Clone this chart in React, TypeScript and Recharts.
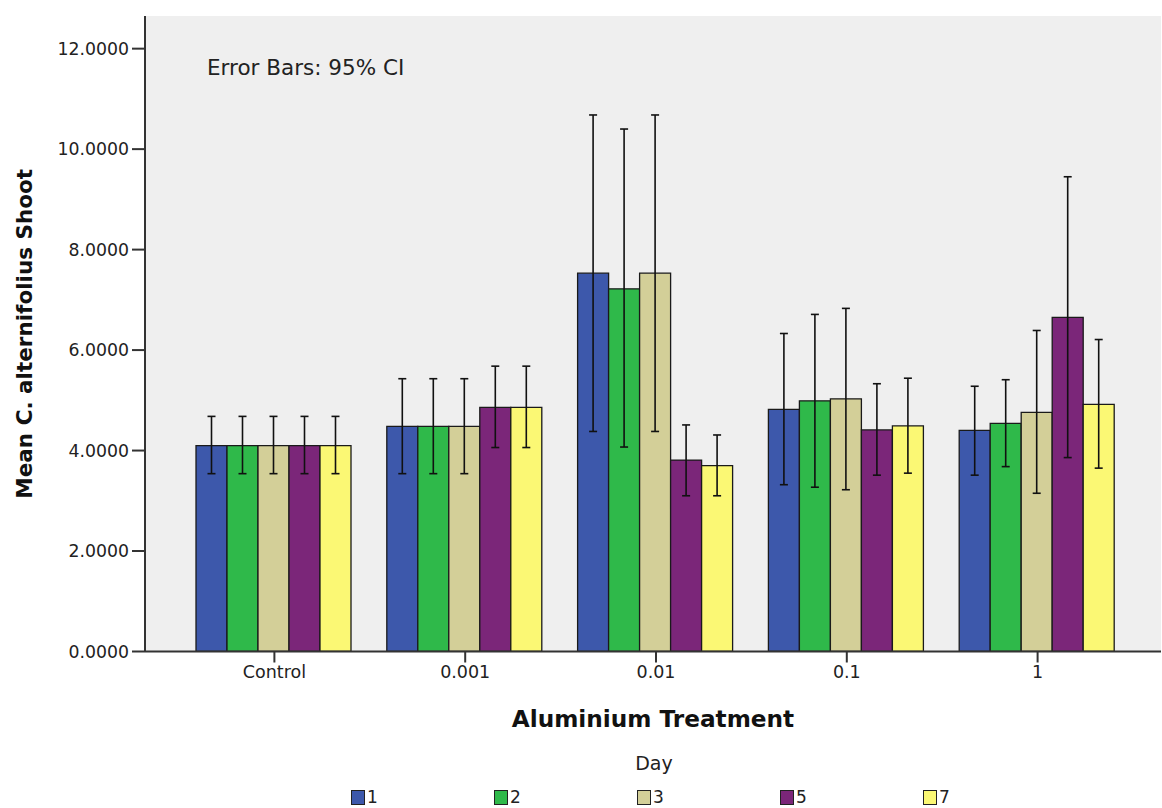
import React from 'react';
import { BarChart, Bar, XAxis, YAxis, CartesianGrid, ErrorBar, Legend } from 'recharts';

const categories = ['Control', '0.001', '0.01', '0.1', '1'];
const dayNames = ['1', '2', '3', '5', '7'];
const dayColors = ['#3d58ab', '#2fb94a', '#d3cf98', '#7b2679', '#fbf874'];

const day1 = [4.10, 4.48, 7.53, 4.82, 4.40];
const day1Lo = [3.54, 3.54, 4.38, 3.32, 3.51];
const day1Hi = [4.68, 5.43, 10.68, 6.33, 5.28];

const day2 = [4.10, 4.48, 7.22, 4.99, 4.54];
const day2Lo = [3.54, 3.54, 4.07, 3.27, 3.68];
const day2Hi = [4.68, 5.43, 10.40, 6.71, 5.41];

const day3 = [4.10, 4.48, 7.53, 5.03, 4.76];
const day3Lo = [3.54, 3.54, 4.38, 3.22, 3.15];
const day3Hi = [4.68, 5.43, 10.68, 6.83, 6.39];

const day5 = [4.10, 4.86, 3.81, 4.41, 6.65];
const day5Lo = [3.54, 4.06, 3.10, 3.51, 3.86];
const day5Hi = [4.68, 5.68, 4.51, 5.33, 9.45];

const day7 = [4.10, 4.86, 3.70, 4.49, 4.92];
const day7Lo = [3.54, 4.06, 3.10, 3.55, 3.65];
const day7Hi = [4.68, 5.68, 4.31, 5.44, 6.21];

const yTicks = [0, 2, 4, 6, 8, 10, 12];
const yMax = 12.65;

const seriesMeans = [day1, day2, day3, day5, day7];
const seriesLo = [day1Lo, day2Lo, day3Lo, day5Lo, day7Lo];
const seriesHi = [day1Hi, day2Hi, day3Hi, day5Hi, day7Hi];

const data = categories.map((cat, i) => {
  const row: any = { cat };
  dayNames.forEach((d, s) => {
    const v = seriesMeans[s][i];
    row['d' + d] = v;
    row['e' + d] = [v - seriesLo[s][i], seriesHi[s][i] - v];
  });
  return row;
});

const FONT = '"DejaVu Sans", Verdana, sans-serif';

const LegendContent = () => (
  <div style={{ position: 'relative', width: 1162, height: 63, fontFamily: FONT }}>
    <div style={{ position: 'absolute', left: 0, width: 1308, top: 7, textAlign: 'center', fontSize: 19, color: '#222' }}>Day</div>
    {dayNames.map((d, i) => (
      <div key={d} style={{ position: 'absolute', left: 351 + i * 143, top: 45, display: 'flex', alignItems: 'center' }}>
        <div style={{ width: 12, height: 13, background: dayColors[i], border: '1px solid #222', boxSizing: 'content-box' }} />
        <span style={{ fontSize: 17, color: '#222', marginLeft: 2, lineHeight: '15px' }}>{d}</span>
      </div>
    ))}
  </div>
);

export default function App() {
  return (
    <div style={{ position: 'absolute', left: 0, top: 0, width: 1162, height: 808, background: '#fff' }}>
      <BarChart
        width={1162}
        height={808}
        data={data}
        margin={{ top: 16, right: 1, left: 0, bottom: 56.5 }}
        barCategoryGap={17}
        barGap={0}
      >
        <CartesianGrid fill="#efefef" horizontal={false} vertical={false} />
        <XAxis
          dataKey="cat"
          height={100}
          padding={{ left: 34, right: 28 }}
          axisLine={{ stroke: '#333', strokeWidth: 2 }}
          tickLine={{ stroke: '#333', strokeWidth: 2 }}
          tickSize={11}
          tickMargin={3}
          tick={{ fill: '#222', fontSize: 17.5, fontFamily: FONT }}
          label={{ value: 'Aluminium Treatment', position: 'insideBottom', offset: 25, style: { fontFamily: FONT, fontSize: 23.2, fontWeight: 'bold', fill: '#111' } }}
        />
        <XAxis
          xAxisId="top"
          dataKey="cat"
          orientation="top"
          height={0}
          tick={false}
          tickLine={false}
          axisLine={{ stroke: '#8a8a8a', strokeWidth: 2.5 }}
        />
        <YAxis
          width={145}
          domain={[0, yMax]}
          ticks={yTicks}
          allowDataOverflow
          tickFormatter={(v: number) => v.toFixed(4)}
          axisLine={{ stroke: '#333', strokeWidth: 2 }}
          tickLine={{ stroke: '#333', strokeWidth: 2 }}
          tickSize={13}
          tickMargin={3}
          tick={{ fill: '#222', fontSize: 17.3, fontFamily: FONT }}
          label={{ value: 'Mean C. alternifolius Shoot', angle: -90, position: 'insideLeft', offset: 24, style: { textAnchor: 'middle', fontFamily: FONT, fontSize: 21.5, fontWeight: 'bold', fill: '#111' } }}
        />
        <YAxis
          yAxisId="right"
          orientation="right"
          width={0}
          domain={[0, yMax]}
          tick={false}
          tickLine={false}
          axisLine={{ stroke: '#bdbdbd', strokeWidth: 1.5 }}
        />
        {dayNames.map((d, i) => (
          <Bar
            key={d}
            dataKey={'d' + d}
            name={d}
            fill={dayColors[i]}
            stroke="#1a1a1a"
            strokeWidth={1.3}
            isAnimationActive={false}
          >
            <ErrorBar dataKey={'e' + d} width={4} stroke="#111" strokeWidth={1.6} direction="y" />
          </Bar>
        ))}
        <text x={207} y={75} fontFamily={FONT} fontSize={21.5} fill="#222">Error Bars: 95% CI</text>
        <Legend
          layout="horizontal"
          verticalAlign="middle"
          align="center"
          content={LegendContent}
          wrapperStyle={{ position: 'absolute', left: 0, top: 745, width: 1162, height: 63 }}
        />
      </BarChart>
    </div>
  );
}
